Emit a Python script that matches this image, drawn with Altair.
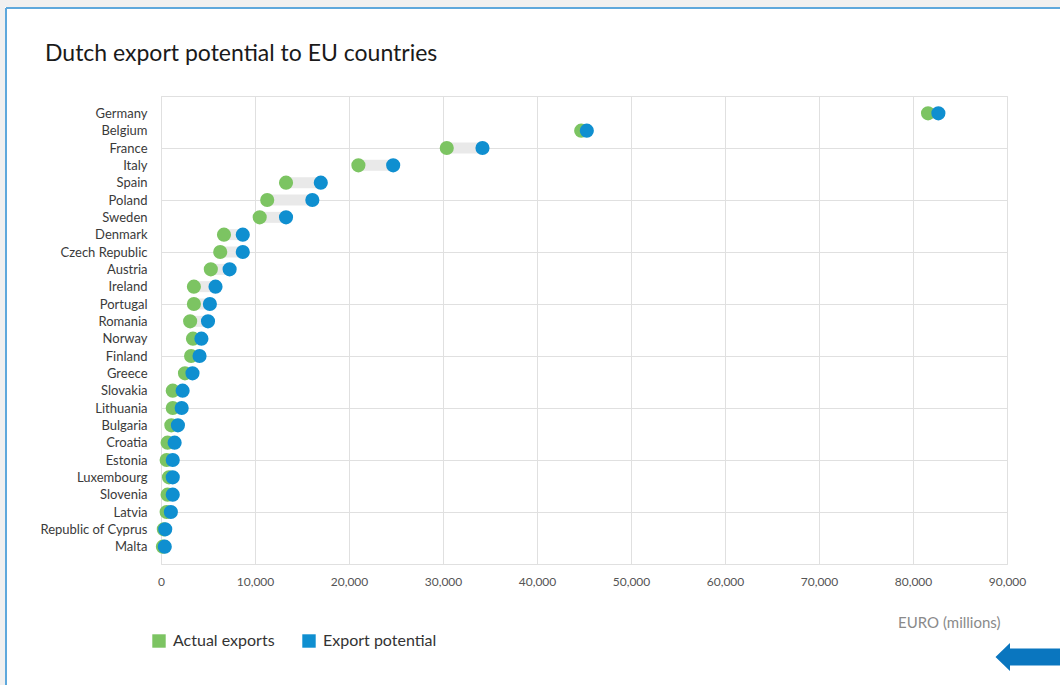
import altair as alt
import pandas as pd

countries = ["Germany", "Belgium", "France", "Italy", "Spain", "Poland", "Sweden",
             "Denmark", "Czech Republic", "Austria", "Ireland", "Portugal", "Romania",
             "Norway", "Finland", "Greece", "Slovakia", "Lithuania", "Bulgaria",
             "Croatia", "Estonia", "Luxembourg", "Slovenia", "Latvia",
             "Republic of Cyprus", "Malta"]
actual = [81600, 44700, 30400, 21000, 13300, 11300, 10500, 6700, 6300, 5300, 3500,
          3500, 3100, 3400, 3200, 2550, 1250, 1250, 1100, 700, 600, 850, 700, 600, 300, 200]
potential = [82700, 45300, 34200, 24700, 17000, 16100, 13300, 8700, 8700, 7300, 5800,
             5200, 5000, 4300, 4100, 3350, 2300, 2200, 1800, 1450, 1250, 1250, 1250,
             1050, 450, 400]
x_ticks = [0, 10000, 20000, 30000, 40000, 50000, 60000, 70000, 80000, 90000]

FONT = "Lato"
GREEN = "#7cc462"
BLUE = "#0f8fd0"

df = pd.DataFrame({
    "country": countries,
    "row": list(range(1, len(countries) + 1)),
    "Actual exports": actual,
    "Export potential": potential,
})

n_rows = len(countries) + 1
label_expr = "[''," + ",".join("'" + c + "'" for c in countries) + "][datum.value] || ''"

y_enc = alt.Y(
    "row:Q",
    scale=alt.Scale(domain=[0, n_rows], reverse=True, nice=False, zero=False),
    axis=alt.Axis(
        values=list(range(0, n_rows + 1)),
        labelExpr=label_expr,
        title=None,
        ticks=False,
        domain=False,
        grid=True,
        gridColor="#e0e0e0",
        gridOpacity={"condition": {"test": "datum.value % 3 === 0", "value": 1}, "value": 0},
        labelPadding=14,
        labelFontSize=13,
        labelColor="#3a3a3a",
        labelFont=FONT,
        labelOverlap=False,
        labelBound=False,
    ),
)

x_scale = alt.Scale(domain=[0, 90000], nice=False)
x_axis = alt.Axis(
    values=x_ticks,
    format=",.0f",
    title="EURO (millions)",
    titleX=839,
    titleY=58,
    titleAlign="right",
    titleAnchor="end",
    titleBaseline="middle",
    titleFontSize=15,
    titleFontWeight="normal",
    titleColor="#8a8a8a",
    titleFont=FONT,
    labelFontSize=12,
    labelColor="#555555",
    labelFont=FONT,
    labelPadding=12,
    labelFlush=False,
    ticks=False,
    domain=False,
    grid=True,
    gridColor="#e0e0e0",
)

base = alt.Chart(df)

connector = base.mark_rule(strokeWidth=11, color="#e9e9e9").encode(
    x=alt.X("Actual exports:Q", scale=x_scale, axis=x_axis),
    x2="Export potential:Q",
    y=y_enc,
)

points = base.transform_fold(
    ["Actual exports", "Export potential"], as_=["series", "value"]
).mark_circle(size=200, opacity=1).encode(
    x=alt.X("value:Q", scale=x_scale, axis=x_axis),
    y=y_enc,
    color=alt.Color(
        "series:N",
        scale=alt.Scale(domain=["Actual exports", "Export potential"], range=[GREEN, BLUE]),
        legend=alt.Legend(
            title=None,
            orient="none",
            legendX=-10,
            legendY=537,
            direction="horizontal",
            symbolType="square",
            symbolSize=180,
            symbolStrokeWidth=0,
            labelFontSize=16,
            labelFont=FONT,
            labelColor="#333333",
            labelOffset=6,
            columnPadding=26,
        ),
    ),
)

one = alt.Data(values=[{}])

gray_top = alt.Chart(one).mark_rect(color="#f0f0f0").encode(
    x=alt.value(-161), x2=alt.value(899), y=alt.value(-96), y2=alt.value(-89))
gray_left = alt.Chart(one).mark_rect(color="#f0f0f0").encode(
    x=alt.value(-161), x2=alt.value(-156), y=alt.value(-96), y2=alt.value(589))
border_top = alt.Chart(one).mark_rule(color="#5ea8dc", strokeWidth=2).encode(
    x=alt.value(-155), x2=alt.value(899), y=alt.value(-88))
border_left = alt.Chart(one).mark_rule(color="#5ea8dc", strokeWidth=2).encode(
    x=alt.value(-155), y=alt.value(-88), y2=alt.value(589))

title = alt.Chart(one).mark_text(
    text="Dutch export potential to EU countries", font=FONT, fontSize=23,
    color="#1a1a1a", align="left", baseline="middle"
).encode(x=alt.value(-116), y=alt.value(-42))

arrow_path = "M -1 0 L 0 -0.97 L 0 -0.59 L 5 -0.59 L 5 0.59 L 0 0.59 L 0 0.97 Z"
arrow = alt.Chart(one).mark_point(
    shape=arrow_path, filled=True, color="#0a76bf", size=841, opacity=1, strokeWidth=0
).encode(x=alt.value(849), y=alt.value(561))

chart = alt.layer(
    gray_top, gray_left, border_top, border_left, title, connector, points, arrow
).properties(
    width=846,
    height=468,
    autosize=alt.AutoSizeParams(type="none"),
    padding={"left": 161, "top": 96, "right": 53, "bottom": 121},
    background="white",
).configure_view(
    stroke="#dcdcdc", strokeWidth=1
)

chart.save("out.html", embed_options={"renderer": "svg", "actions": False})
